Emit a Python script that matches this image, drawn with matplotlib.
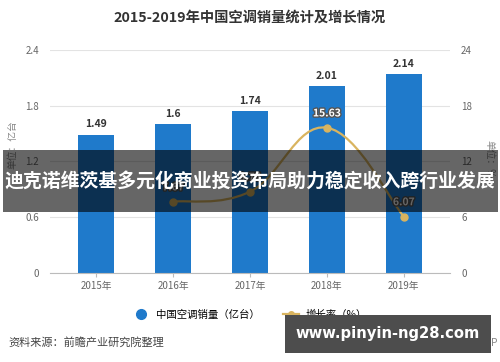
import matplotlib
matplotlib.use("Agg")
import matplotlib.pyplot as plt
from matplotlib.path import Path
from matplotlib.patches import PathPatch, Rectangle
from matplotlib.lines import Line2D
import matplotlib.patheffects as pe

plt.rcParams['font.family'] = ['Noto Sans CJK SC', 'DejaVu Sans']

# data
years = ['2015年', '2016年', '2017年', '2018年', '2019年']
sales = [1.49, 1.6, 1.74, 2.01, 2.14]          # 亿台
growth_idx = [1, 2, 3, 4]
growth = [7.67, 8.75, 15.63, 6.07]             # %
left_ticks = [0, 0.6, 1.2, 1.8, 2.4]
right_ticks = [0, 6, 12, 18, 24]

bar_color = '#1f7acb'
line_color = '#d9b45f'
grey = '#666666'

fig = plt.figure(figsize=(5, 3.62), dpi=100)
ax = fig.add_axes([0.1, 0.246, 0.8, 0.616])
ax2 = ax.twinx()

x = list(range(len(years)))
ax.bar(x, sales, width=0.47, color=bar_color, zorder=2)
for xi, v in zip(x, sales):
    ax.text(xi, v + 0.06, str(v), ha='center', va='bottom', fontsize=7.5,
            fontweight='bold', color='#333333')

ax.set_xlim(-0.6, 4.6)
ax.set_ylim(0, 2.4)
ax.set_yticks(left_ticks)
ax.set_yticklabels([str(t) for t in left_ticks])
ax.set_xticks(x)
ax.set_xticklabels(years)
ax.grid(axis='y', color='#e3e3e3', linewidth=0.8, zorder=0)
ax.set_axisbelow(True)
for s in ['top', 'right', 'left']:
    ax.spines[s].set_visible(False)
ax.spines['bottom'].set_color('#bbbbbb')
ax.tick_params(axis='y', length=0, labelsize=7, labelcolor=grey, pad=8)
ax.tick_params(axis='x', length=3, color='#bbbbbb', labelsize=7, labelcolor=grey, pad=3)

# growth line, smoothed with bezier segments between the points
ax2.set_ylim(0, 24)
ax2.set_yticks(right_ticks)
ax2.set_yticklabels([str(t) for t in right_ticks])
for s in ['top', 'right', 'left', 'bottom']:
    ax2.spines[s].set_visible(False)
ax2.tick_params(axis='y', length=0, labelsize=7, labelcolor=grey, pad=8)

pts = list(zip(growth_idx, growth))
verts = [pts[0]]
codes = [Path.MOVETO]
k = 0.2
for i in range(len(pts) - 1):
    p0 = pts[i - 1] if i > 0 else pts[i]
    p1 = pts[i]
    p2 = pts[i + 1]
    p3 = pts[i + 2] if i + 2 < len(pts) else pts[i + 1]
    c1 = (p1[0] + k * (p2[0] - p0[0]), p1[1] + k * (p2[1] - p0[1]))
    c2 = (p2[0] - k * (p3[0] - p1[0]), p2[1] - k * (p3[1] - p1[1]))
    verts += [c1, c2, p2]
    codes += [Path.CURVE4] * 3
ax2.add_patch(PathPatch(Path(verts, codes), facecolor='none', edgecolor=line_color,
                        linewidth=1.6, zorder=3))
ax2.plot(growth_idx, growth, 'o', color=line_color, markersize=5, zorder=4)
for xi, v in zip(growth_idx, growth):
    ax2.text(xi, v + 1.0, f'{v:.2f}', ha='center', va='bottom', fontsize=7.5,
             fontweight='bold', color='white', zorder=5,
             path_effects=[pe.withStroke(linewidth=2, foreground='#555555')])

# axis unit labels
fig.text(0.024, 0.6, '单位：亿台', rotation=90, ha='center', va='center',
         fontsize=7, color='#888888')
fig.text(0.978, 0.56, '单位：%', rotation=270, ha='center', va='center',
         fontsize=7, color='#888888')

fig.text(0.5, 0.95, '2015-2019年中国空调销量统计及增长情况', ha='center', va='center',
         fontsize=10.3, fontweight='bold', color='#333333')

# legend
handles = [Line2D([], [], marker='o', linestyle='none', color=bar_color, markersize=7),
           Line2D([], [], marker='o', color=line_color, markersize=4, linewidth=1.6)]
fig.legend(handles, ['中国空调销量（亿台）', '增长率（%）'], loc='center',
           bbox_to_anchor=(0.5, 0.13), ncol=2, frameon=False, fontsize=7.5,
           handlelength=1.6, columnspacing=2.2, handletextpad=0.6)

fig.text(0.016, 0.055, '资料来源：前瞻产业研究院整理', ha='left', va='center',
         fontsize=8, color='#444444')
fig.text(0.996, 0.055, '@前瞻经济学人APP', ha='right', va='center',
         fontsize=7.5, color='#888888')

# overlay banner
fig.patches.append(Rectangle((0.006, 0.414), 0.99, 0.172, transform=fig.transFigure,
                             facecolor='black', alpha=0.6, zorder=10))
fig.text(0.5, 0.5, '迪克诺维茨基多元化商业投资布局助力稳定收入跨行业发展', ha='center',
         va='center', fontsize=13.6, fontweight='bold', color='white', zorder=11)

fig.patches.append(Rectangle((0.57, 0.025), 0.412, 0.105, transform=fig.transFigure,
                             facecolor='#4d4d4d', zorder=10))
fig.text(0.776, 0.078, 'www.pinyin-ng28.com', ha='center', va='center',
         fontsize=10.6, fontweight='bold', color='white', family='DejaVu Sans', zorder=11)

fig.savefig('out.png', dpi=100)
